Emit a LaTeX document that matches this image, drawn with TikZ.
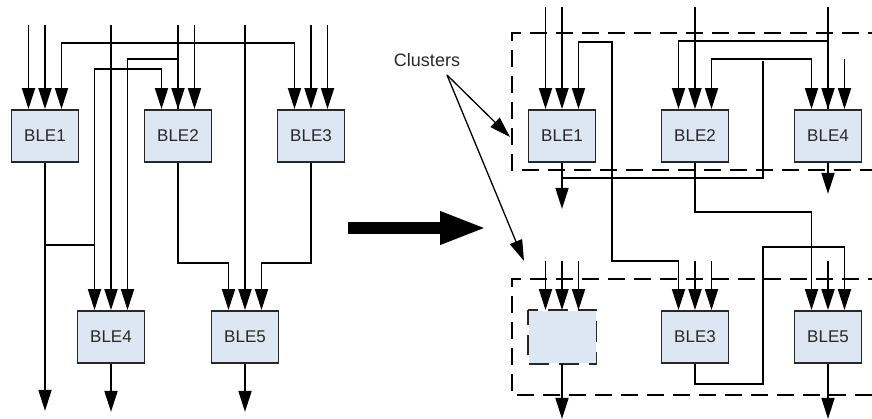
\documentclass[tikz,border=0pt]{standalone}
\usepackage{fontspec}
\setsansfont{Liberation Sans}
\usepackage{xcolor}
\usepackage{tikz}
\usetikzlibrary{arrows.meta}
\definecolor{blefill}{RGB}{221,231,243}
\definecolor{blebord}{RGB}{40,40,40}

\begin{document}
\begin{tikzpicture}[x=1pt,y=-1pt,line width=1.8pt,
  >={Triangle[length=21pt,width=13pt]},
  ble/.style={draw=blebord,fill=blefill,line width=1.8pt,minimum width=67pt,minimum height=52pt,
    inner sep=0pt,text=blebord,font=\sffamily\fontsize{17}{20}\selectfont},
  emptyble/.style={fill=blefill,minimum width=67pt,minimum height=52pt,inner sep=0pt},
  cluster/.style={line width=2pt,dash pattern=on 17pt off 9pt}]
  \useasboundingbox (0,0) rectangle (872,419);
  % before clustering
  \node[ble] (L1) at (45,136) {BLE1};
  \node[ble] (L2) at (178,136) {BLE2};
  \node[ble] (L3) at (311,136) {BLE3};
  \node[ble] (L4) at (111,337) {BLE4};
  \node[ble] (L5) at (245,337) {BLE5};
  \draw[<-] ([xshift=-16.5pt]L1.north) -- ++(0,-84);
  \draw[<-] (L1.north) -- ++(0,-84);
  \draw[<->] ([xshift=16.5pt]L1.north) -- ++(0,-66) -| ([xshift=-16.5pt]L3.north);
  \draw[->] (L1.south) -- ++(0,248);
  \draw[<->] ([xshift=-16.5pt]L4.north) -- ++(0,-241) -| ([xshift=-16.5pt]L2.north);
  \draw (L1.south) ++(0,82) -- ++(49.5,0);
  \draw[<-] (L2.north) -- ++(0,-84);
  \draw[<-] ([xshift=16.5pt]L4.north) -- ++(0,-251) -| (L2.north);
  \draw[<-] ([xshift=16.5pt]L2.north) -- ++(0,-84);
  \draw[<-] (L4.north) -- ++(0,-285);
  \draw[<-] (L5.north) -- ++(0,-285);
  \draw[<-] (L3.north) -- ++(0,-84);
  \draw[<-] ([xshift=16.5pt]L3.north) -- ++(0,-84);
  \draw[->] (L2.south) -- ++(0,100) -| ([xshift=-16.5pt]L5.north);
  \draw[->] (L3.south) -- ++(0,100) -| ([xshift=16.5pt]L5.north);
  \draw[->] (L4.south) -- ++(0,48);
  \draw[->] (L5.south) -- ++(0,48);

  % big arrow and label
  \coordinate (bigs) at (348,228);
  \coordinate (bige) at (487,228);
  \draw[line width=12pt,-{Triangle[length=47pt,width=30pt]}] (bigs) -- (bige);
  \node[text=blebord,font=\sffamily\fontsize{18}{20}\selectfont] (clu) at (427,60) {Clusters};
  \coordinate (cs) at (447,75);
  \coordinate (c1) at (510,137);
  \coordinate (c2) at (524,261);
  \draw[line width=1.3pt,->] (cs) -- (c1);
  \draw[line width=1.3pt,->] (cs) -- (c2);

  % after clustering
  \draw[cluster] (885,33) -| (512,170) -- (885,170);
  \draw[cluster] (885,279) -| (512,395) -- (885,395);
  \node[ble] (R1) at (562,136) {BLE1};
  \node[ble] (R2) at (695,136) {BLE2};
  \node[ble] (R4) at (828,136) {BLE4};
  \node[emptyble] (RE) at (562,337) {};
  \draw[blebord,line width=1.8pt,dash pattern=on 20pt off 10pt,dash phase=5pt]
    (RE.north west) rectangle (RE.south east);
  \node[ble] (R3) at (695,337) {BLE3};
  \node[ble] (R5) at (828,337) {BLE5};
  \draw[<-] ([xshift=-16.5pt]R1.north) -- ++(0,-102);
  \draw[<-] (R1.north) -- ++(0,-102);
  \draw[<->] ([xshift=16.5pt]R1.north) -- ++(0,-67) -- ++(33.5,0) -- ++(0,219) -| ([xshift=-16.5pt]R3.north);
  \draw[->] (R1.south) -- ++(0,46);
  \draw (R1.south) ++(0,15) -- ++(201,0) -- ++(0,-117);
  \draw[<->] ([xshift=16.5pt]R2.north) -- ++(0,-50) -| ([xshift=-16.5pt]R4.north);
  \draw[<-] (R4.north) -- ++(0,-102);
  \draw[<-] ([xshift=-16.5pt]R2.north) -- ++(0,-68) -| (R4.north);
  \draw[<-] (R2.north) -- ++(0,-102);
  \draw[<-] ([xshift=16.5pt]R4.north) -- ++(0,-50);
  \draw[->] (R4.south) -- ++(0,31);
  \draw[->] (R2.south) -- ++(0,49) -| ([xshift=-16.5pt]R5.north);
  \draw[->] (R3.south) -- ++(0,20) -- ++(68,0) -- ++(0,-137) -| ([xshift=16.5pt]R5.north);
  \draw[<-] (R5.north) -- ++(0,-49);
  \draw[<-] (R3.north) -- ++(0,-49);
  \draw[<-] ([xshift=16.5pt]R3.north) -- ++(0,-49);
  \draw[<-] ([xshift=-16.5pt]RE.north) -- ++(0,-49);
  \draw[<-] (RE.north) -- ++(0,-49);
  \draw[<-] ([xshift=16.5pt]RE.north) -- ++(0,-49);
  \draw[->] (RE.south) -- ++(0,55);
  \draw[->] (R5.south) -- ++(0,55);
\end{tikzpicture}
\end{document}
